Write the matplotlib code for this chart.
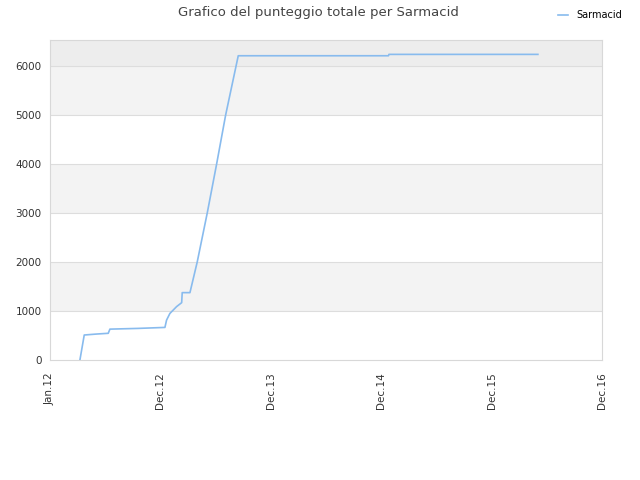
import matplotlib
matplotlib.use("Agg")
import matplotlib.pyplot as plt

# mesi contati da Jan.12 (asse a intervalli regolari)
months = [3.26, 3.73, 5.08, 6.34, 6.52, 9.60, 12.5, 12.68, 13.04, 13.77, 14.32,
          14.38, 15.22, 16.01, 17.10, 18.12, 19.10, 20.47, 36.8, 36.85, 53.04]
score = [0, 510, 530, 545, 630, 645, 665, 815, 950, 1090, 1170,
         1375, 1375, 2000, 3000, 4000, 5000, 6210, 6210, 6238, 6238]

tick_pos = [0, 12, 24, 36, 48, 60]
tick_labels = ["Jan.12", "Dec.12", "Dec.13", "Dec.14", "Dec.15", "Dec.16"]
y_ticks = [0, 1000, 2000, 3000, 4000, 5000, 6000]

fig = plt.figure(figsize=(6.4, 4.8), dpi=100)
ax = fig.add_axes([0.078, 0.25, 0.8625, 0.666])

ymax = 6525
# fasce alternate di sfondo
for i in range(len(y_ticks) - 1):
    if i % 2 == 1:
        ax.axhspan(y_ticks[i], y_ticks[i + 1], color="#f3f3f3", zorder=0, lw=0)
ax.axhspan(6000, ymax, color="#ededed", zorder=0, lw=0)
for yv in y_ticks[1:]:
    ax.axhline(yv, color="#dddddd", lw=0.8, zorder=1)

ax.plot(months, score, color="#88bbee", lw=1.2, label="Sarmacid", zorder=3)

ax.set_xlim(0, 60)
ax.set_ylim(0, ymax)
ax.set_xticks(tick_pos)
ax.set_xticklabels(tick_labels, rotation=90, fontsize=7.5, color="#333333")
ax.set_yticks(y_ticks)
ax.set_yticklabels([str(v) for v in y_ticks], fontsize=7.5, color="#333333")
ax.tick_params(axis="y", length=0, pad=6)
ax.tick_params(axis="x", length=0, pad=9)
for s in ax.spines.values():
    s.set_color("#d8d8d8")
    s.set_linewidth(0.8)

fig.text(0.497, 0.988, "Grafico del punteggio totale per Sarmacid", ha="center", va="top",
         fontsize=9.5, color="#444444")
fig.legend(loc="upper right", bbox_to_anchor=(0.985, 0.997), frameon=False, fontsize=7,
           handlelength=1.0, handletextpad=0.8)

plt.savefig("out.png", dpi=100)
